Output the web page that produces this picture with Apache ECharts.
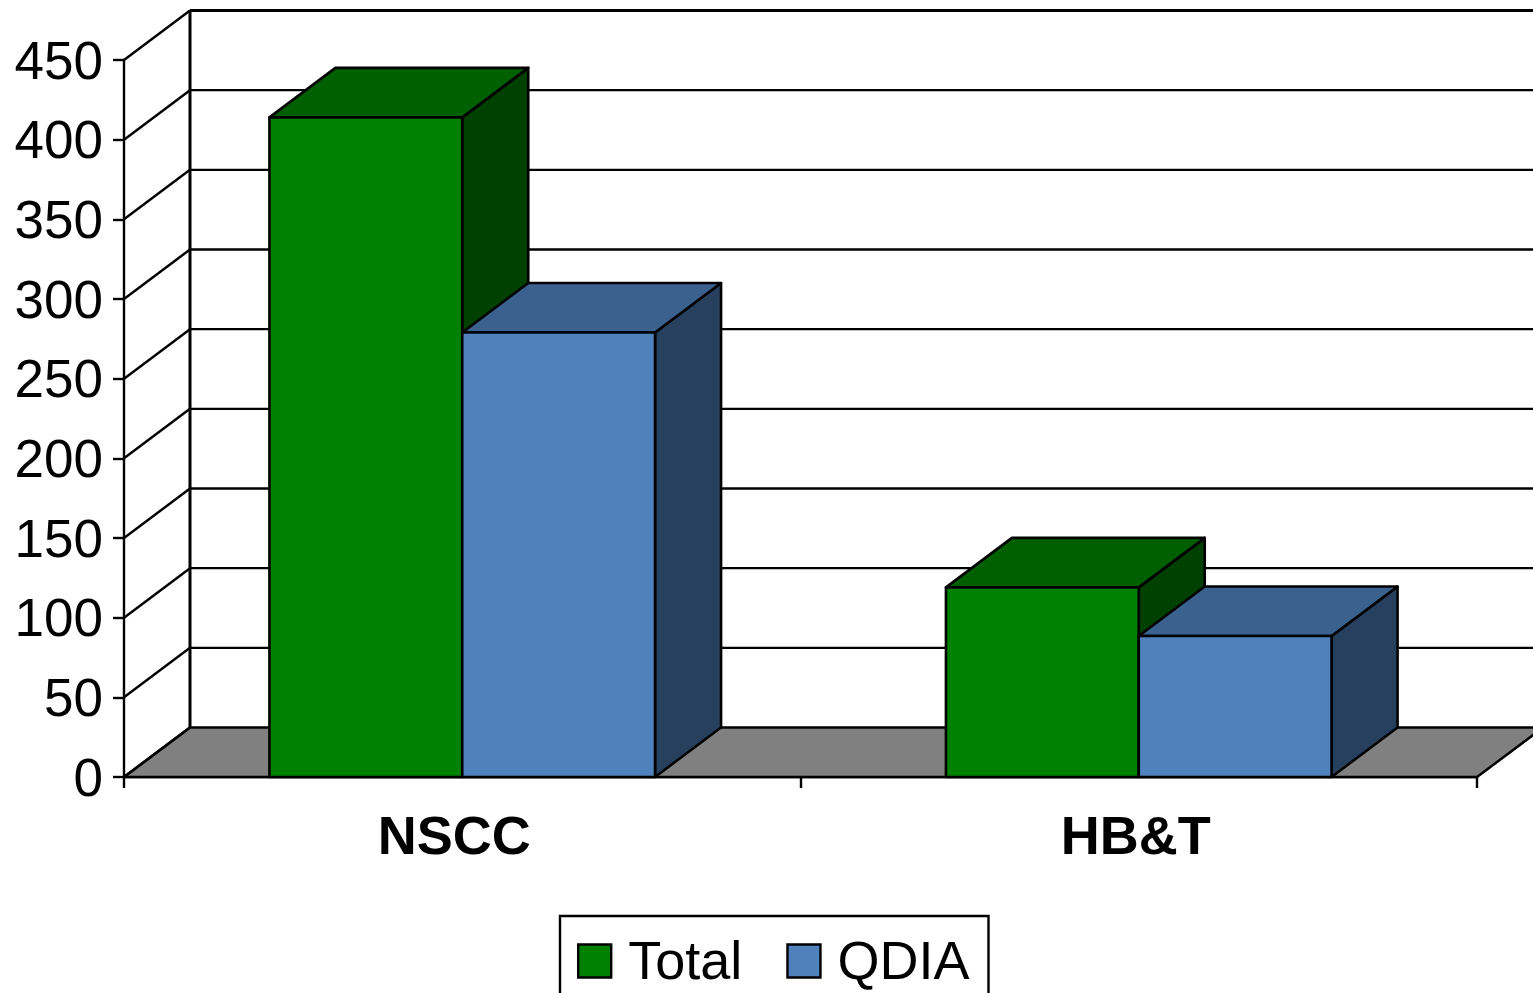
<!DOCTYPE html>
<html>
<head>
<meta charset="utf-8">
<style>html,body{margin:0;padding:0;background:#fff;overflow:hidden}#c{width:1533px;height:993px}</style>
<script src="https://cdn.jsdelivr.net/npm/echarts@6/dist/echarts.min.js"></script>
</head>
<body>
<div id="c"></div>
<script>
const categories = ['NSCC', 'HB&T'];
const totalValues = [414, 119];
const qdiaValues = [279, 88.5];
const wallTicks = [0, 50, 100, 150, 200, 250, 300, 350, 400, 450];

const DX = 66, DY = 49.5, BAR_RATIO = 0.285;
const INK = '#000';
const FONT = '"Liberation Sans", Arial, sans-serif';

function poly(points, fill) {
  return { type: 'polygon', shape: { points: points },
    style: { fill: fill, stroke: INK, lineWidth: 2.6, lineJoin: 'round' } };
}
function line(a, b, w) {
  return { type: 'line', shape: { x1: a[0], y1: a[1], x2: b[0], y2: b[1] },
    style: { stroke: INK, lineWidth: w || 2.4, fill: null } };
}

function renderFloor(params, api) {
  const band = api.size([1, 0])[0];
  const l = api.coord([0, 0])[0] - band / 2;
  const r = api.coord([categories.length - 1, 0])[0] + band / 2;
  const y = api.coord([0, 0])[1];
  return poly([[l, y], [r, y], [r + DX, y - DY], [l + DX, y - DY]], '#808080');
}
function renderWall(params, api) {
  const band = api.size([1, 0])[0];
  const v = api.value(0);
  const p = api.coord([0, v]);
  const l = p[0] - band / 2, y = p[1];
  const r = api.coord([categories.length - 1, v])[0] + band / 2;
  const kids = [line([l, y], [l + DX, y - DY])];
  const isTop = v === wallTicks[wallTicks.length - 1];
  if (v > 0) kids.push(line([l + DX, y - DY], [r + DX, y - DY], isTop ? 3 : 2.4));
  if (isTop) {
    const y0 = api.coord([0, 0])[1];
    kids.push(line([l + DX, y - DY], [l + DX, y0 - DY], 3));
  }
  return { type: 'group', children: kids };
}
function barRenderer(front, top, side, sign) {
  return function (params, api) {
    const cx = api.coord([api.value(0), 0])[0];
    const y0 = api.coord([api.value(0), 0])[1];
    const y1 = api.coord([api.value(0), api.value(1)])[1];
    const bw = api.size([1, 0])[0] * BAR_RATIO;
    const x0 = sign < 0 ? cx - bw : cx, x1 = x0 + bw;
    return { type: 'group', children: [
      poly([[x1, y0], [x1 + DX, y0 - DY], [x1 + DX, y1 - DY], [x1, y1]], side),
      poly([[x0, y1], [x1, y1], [x1 + DX, y1 - DY], [x0 + DX, y1 - DY]], top),
      poly([[x0, y0], [x1, y0], [x1, y1], [x0, y1]], front)
    ] };
  };
}

const chart = echarts.init(document.getElementById('c'), null, { renderer: 'canvas' });
chart.setOption({
  animation: false,
  backgroundColor: '#fff',
  grid: { left: 124, top: 60, width: 1353, height: 717, containLabel: false },
  xAxis: {
    type: 'category',
    data: categories.map((c, i) => ({ value: c, textStyle: { padding: [0, i === 0 ? 16 : 6, 0, 0] } })),
    axisLine: { show: true, lineStyle: { color: INK, width: 2.4 } },
    axisTick: { show: true, length: 11, lineStyle: { color: INK, width: 2.4 } },
    axisLabel: { color: INK, fontFamily: FONT, fontSize: 54, fontWeight: 'bold', margin: 35 },
    splitLine: { show: false }
  },
  yAxis: {
    type: 'value', min: 0, max: 450, interval: 50,
    axisLine: { show: true, lineStyle: { color: INK, width: 2.4 } },
    axisTick: { show: true, length: 11, lineStyle: { color: INK, width: 2.4 } },
    axisLabel: { color: INK, fontFamily: FONT, fontSize: 53, margin: 21, verticalAlign: 'top', lineHeight: 8 },
    splitLine: { show: false }
  },
  legend: {
    data: [{ name: 'Total', icon: 'rect' }, { name: 'QDIA', icon: 'rect' }],
    left: 560, top: 916, orient: 'horizontal',
    padding: [15, 19, 40, 17],
    itemWidth: 33, itemHeight: 33, itemGap: 44,
    borderColor: INK, borderWidth: 2.4, backgroundColor: '#fff',
    selectedMode: false,
    itemStyle: { borderColor: INK, borderWidth: 2.4 },
    formatter: function (name) { return '{t|' + name + '}'; },
    textStyle: { color: INK, fontFamily: FONT, fontSize: 54,
      rich: { t: { color: INK, fontFamily: FONT, fontSize: 54, lineHeight: 60, padding: [6, 0, 0, 12] } } }
  },
  series: [
    { type: 'custom', silent: true, z: 1, data: [[0]], renderItem: renderFloor, coordinateSystem: 'cartesian2d' },
    { type: 'custom', silent: true, z: 1, data: wallTicks.map(v => [v]), renderItem: renderWall, coordinateSystem: 'cartesian2d', encode: { y: 0 } },
    { type: 'custom', name: 'Total', z: 2, itemStyle: { color: '#008000' },
      data: categories.map((c, i) => [i, totalValues[i]]), encode: { x: 0, y: 1 },
      renderItem: barRenderer('#008000', '#006000', '#004000', -1) },
    { type: 'custom', name: 'QDIA', z: 2, itemStyle: { color: '#4f81bd' },
      data: categories.map((c, i) => [i, qdiaValues[i]]), encode: { x: 0, y: 1 },
      renderItem: barRenderer('#4f81bd', '#3b618e', '#27405e', 1) }
  ]
});
</script>
</body>
</html>
